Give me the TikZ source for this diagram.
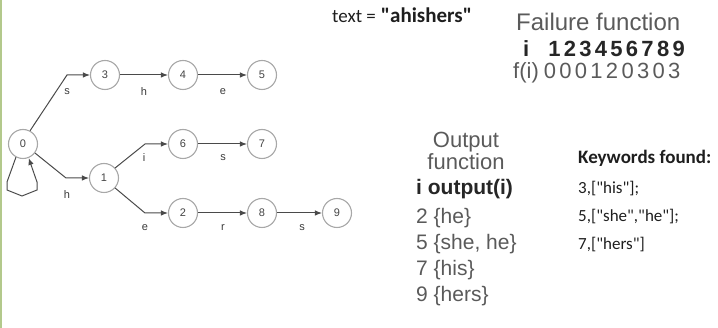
\documentclass[tikz,border=0pt]{standalone}
\usepackage{fontspec}
\setmainfont{Liberation Sans}
\newfontfamily\calib{Carlito}
\usetikzlibrary{arrows.meta}
\definecolor{edgec}{HTML}{4A4A4A}
\definecolor{circC}{HTML}{A8A8A8}
\definecolor{nodeT}{HTML}{444444}
\definecolor{labT}{HTML}{3A3A3A}
\definecolor{grayT}{HTML}{5A5A5A}
\definecolor{darkT}{HTML}{262626}
\definecolor{kwT}{HTML}{1E1E1E}
\definecolor{edgeG}{HTML}{B3C98C}
\newcommand\dgap{\hspace{3.3pt}}
\begin{document}
\begin{tikzpicture}[x=1pt,y=-1pt,
  state/.style={circle,draw=circC,line width=1.1pt,fill=white,minimum size=29pt,inner sep=0pt,
    font=\fontsize{11}{13}\selectfont,text=nodeT},
  tr/.style={draw=edgec,line width=1pt,-{Latex[length=7pt,width=5.5pt]}},
  lab/.style={font=\fontsize{11}{13}\selectfont,text=labT},
  ttl/.style={anchor=base,font=\fontsize{22}{24}\selectfont,text=grayT},
  outrow/.style={anchor=base west,font=\fontsize{21}{23}\selectfont,text=grayT},
  kwrow/.style={anchor=base west,font=\calib\fontsize{17}{19}\selectfont,text=kwT}]
\useasboundingbox (0,0) rectangle (718,328);
\draw[edgeG,line width=1.5pt] (0.75,0) -- (0.75,328);
% states
\node[state] (n0) at (23,144) {0};
\node[state] (n3) at (105,75) {3};
\node[state] (n4) at (183,75) {4};
\node[state] (n5) at (262,75) {5};
\node[state] (n1) at (104,178) {1};
\node[state] (n6) at (183,144) {6};
\node[state] (n7) at (262,144) {7};
\node[state] (n2) at (183,213) {2};
\node[state] (n8) at (262,213) {8};
\node[state] (n9) at (337,213) {9};
% bend points
\coordinate (c03) at (67,75);
\coordinate (c01) at (66,178);
\coordinate (c16) at (145,144);
\coordinate (c12) at (145,213);
\coordinate (l1) at (7,182);
\coordinate (l2) at (7,190);
\coordinate (l3) at (22,196);
\coordinate (l4) at (37,190);
\coordinate (l5) at (37,182);
% transitions
\draw[tr] (n0.62) -- (c03) -- (n3);
\draw[tr] (n0.-37) -- (c01) -- (n1);
\draw[tr] (n1.42) -- (c16) -- (n6);
\draw[tr] (n1.-42) -- (c12) -- (n2);
\draw[tr] (n3) -- (n4);
\draw[tr] (n4) -- (n5);
\draw[tr] (n6) -- (n7);
\draw[tr] (n2) -- (n8);
\draw[tr] (n8) -- (n9);
\draw[tr] (n0.-118) -- (l1) -- (l2) -- (l3) -- (l4) -- (l5) -- (n0.-68);
% labels
\node[lab] (ls03) at (67,92) {s};
\node[lab] (lh01) at (67,195) {h};
\node[lab] (lh34) at (144,92) {h};
\node[lab] (le45) at (223,92) {e};
\node[lab] (li16) at (144,158) {i};
\node[lab] (ls67) at (223,158) {s};
\node[lab] (le12) at (145,228) {e};
\node[lab] (lr28) at (223,228) {r};
\node[lab] (ls89) at (302,228) {s};
% text
\node[anchor=base west,inner sep=0pt,text=kwT] (txt) at (332,23)
  {\calib\fontsize{19}{21}\selectfont text =\hspace{5pt}\fontsize{21}{23}\selectfont\bfseries "ahishers"};
% failure function
\node[anchor=base west,inner sep=0pt,font=\fontsize{24}{26}\selectfont,text=grayT] (fft) at (516,31) {Failure function};
\node[anchor=base west,inner sep=0pt,font=\fontsize{22}{24}\selectfont\bfseries,text=darkT] (ffi) at (523,57)
  {i\hspace{19pt}1\dgap2\dgap3\dgap4\dgap5\dgap6\dgap7\dgap8\dgap9};
\node[anchor=base west,inner sep=0pt,font=\fontsize{22}{24}\selectfont,text=grayT] (fff) at (513,79)
  {f(i)\hspace{5pt}0\dgap0\dgap0\dgap1\dgap2\dgap0\dgap3\dgap0\dgap3};
% output function
\node[ttl,inner sep=0pt] (oft1) at (466,148) {Output};
\node[ttl,inner sep=0pt] (oft2) at (466,170) {function};
\node[outrow,inner sep=0pt,font=\fontsize{21}{23}\selectfont\bfseries,text=darkT] (ofh) at (416,195) {i output(i)};
\node[outrow,inner sep=0pt] (of2) at (416,224) {2 \{he\}};
\node[outrow,inner sep=0pt] (of5) at (416,250) {5 \{she, he\}};
\node[outrow,inner sep=0pt] (of7) at (416,276) {7 \{his\}};
\node[outrow,inner sep=0pt] (of9) at (416,302) {9 \{hers\}};
% keywords
\node[kwrow,inner sep=0pt,font=\calib\fontsize{19}{21}\selectfont\bfseries] (kwt) at (578,164) {Keywords found:};
\node[kwrow,inner sep=0pt] (kw1) at (578,194) {3,["his"];};
\node[kwrow,inner sep=0pt] (kw2) at (578,222) {5,["she","he"];};
\node[kwrow,inner sep=0pt] (kw3) at (578,250) {7,["hers"]};
\end{tikzpicture}
\end{document}
